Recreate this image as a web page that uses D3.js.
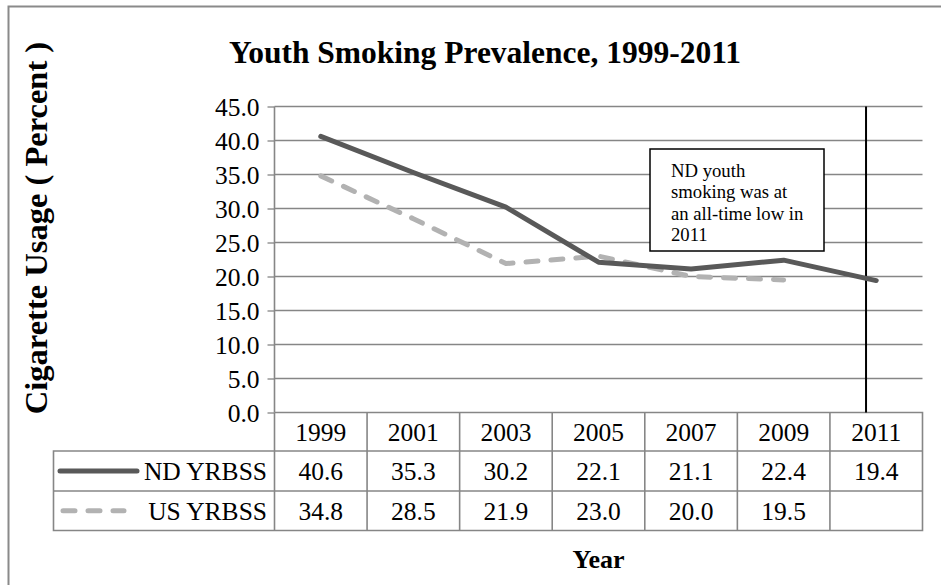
<!DOCTYPE html>
<html>
<head>
<meta charset="utf-8">
<script src="https://cdn.jsdelivr.net/npm/d3@7"></script>
<style>
  html, body { margin: 0; padding: 0; background: #fff; }
  svg { display: block; }
  svg text { font-family: "Liberation Serif", "Times New Roman", serif; }
</style>
</head>
<body>
<svg id="chart" width="941" height="585" font-family="Liberation Serif, Times New Roman, serif"></svg>
<script>
// Survey years (categories)
const years = ["1999", "2001", "2003", "2005", "2007", "2009", "2011"];
// Percent of youth smoking cigarettes
const ndValues = [40.6, 35.3, 30.2, 22.1, 21.1, 22.4, 19.4];
const usValues = [34.8, 28.5, 21.9, 23.0, 20.0, 19.5, null];
const seriesNames = ["ND YRBSS", "US YRBSS"];
// Value axis ticks
const yTicks = [0, 5, 10, 15, 20, 25, 30, 35, 40, 45];
const noteLines = ["ND youth", "smoking was at", "an all-time low in", "2011"];

(function () {
const series = [
  { name: seriesNames[0], values: ndValues, color: "#595959", dash: null },
  { name: seriesNames[1], values: usValues, color: "#b2b2b2", dash: "12,13" }
];

const svg = d3.select("#chart");
const gridColor = "#868686";

const plotL = 274.5, plotR = 922.5, plotT = 106.5, plotB = 412.5;
const rowH = [38.5, 40, 39.5];

const x = d3.scaleBand().domain(years).range([plotL, plotR]);
const y = d3.scaleLinear().domain([0, 45]).range([plotB, plotT]);

// Chart frame
svg.append("rect")
  .attr("x", 8.5).attr("y", 6.5).attr("width", 1000).attr("height", 700)
  .attr("fill", "none").attr("stroke", "#8a8a8a").attr("stroke-width", 2);

// Title
svg.append("text")
  .attr("x", 485).attr("y", 63)
  .attr("text-anchor", "middle")
  .attr("font-weight", "bold").attr("font-size", 31.5)
  .text("Youth Smoking Prevalence, 1999-2011");

// Gridlines
svg.append("g").selectAll("line").data(yTicks.filter(d => d > 0)).join("line")
  .attr("x1", plotL).attr("x2", plotR)
  .attr("y1", d => y(d)).attr("y2", d => y(d))
  .attr("stroke", gridColor).attr("stroke-width", 1.3);

// Value axis
const yAxis = svg.append("g")
  .attr("transform", `translate(${plotL},0)`)
  .call(d3.axisLeft(y).tickValues(yTicks).tickFormat(d => d.toFixed(1)).tickSize(7).tickPadding(8));
yAxis.attr("font-family", null).attr("font-size", null);
yAxis.select(".domain").attr("stroke", gridColor).attr("stroke-width", 1.6)
  .attr("d", `M0,${plotT}V${plotB}`);
yAxis.selectAll(".tick line").attr("stroke", gridColor).attr("stroke-width", 1.3);
yAxis.selectAll(".tick text")
  .attr("font-size", 25.5).attr("fill", "#000").attr("dy", "0.34em");

// Axis titles
svg.append("text")
  .attr("transform", "translate(47,228) rotate(-90)")
  .attr("text-anchor", "middle")
  .attr("font-weight", "bold").attr("font-size", 32.5)
  .text("Cigarette Usage ( Percent )");

svg.append("text")
  .attr("x", (plotL + plotR) / 2).attr("y", 568)
  .attr("text-anchor", "middle")
  .attr("font-weight", "bold").attr("font-size", 26)
  .text("Year");

// Data table
const tableLeft = 53.5;
const r0 = plotB, r1 = r0 + rowH[0], r2 = r1 + rowH[1], r3 = r2 + rowH[2];
const table = svg.append("g").attr("stroke", gridColor).attr("stroke-width", 1.6).attr("fill", "none");
table.append("path").attr("d", `M${plotL},${r0}H${plotR}V${r3}H${tableLeft}V${r1}H${plotR}M${tableLeft},${r2}H${plotR}`);
table.selectAll("line.col").data(years).join("line")
  .attr("x1", d => x(d)).attr("x2", d => x(d))
  .attr("y1", r0).attr("y2", r3);

// Header row: year labels
svg.append("g").selectAll("text").data(years).join("text")
  .attr("x", d => x(d) + x.bandwidth() / 2).attr("y", (r0 + r1) / 2 + 9)
  .attr("text-anchor", "middle").attr("font-size", 25.5)
  .text(d => d);

// Series rows with legend keys and values
const rowsTop = [r1, r2];
series.forEach((s, i) => {
  const cy = rowsTop[i] + rowH[i + 1] / 2;
  svg.append("line")
    .attr("x1", i === 0 ? 60 : 63).attr("x2", i === 0 ? 137 : 124)
    .attr("y1", cy).attr("y2", cy)
    .attr("stroke", s.color).attr("stroke-width", 5)
    .attr("stroke-linecap", "round")
    .attr("stroke-dasharray", s.dash);
  svg.append("text")
    .attr("x", 267).attr("y", cy + 9)
    .attr("text-anchor", "end").attr("font-size", 25.5)
    .text(s.name);
  svg.append("g").selectAll("text").data(years.map((yr, j) => ({ yr, v: s.values[j] })).filter(d => d.v != null)).join("text")
    .attr("x", d => x(d.yr) + x.bandwidth() / 2).attr("y", cy + 9)
    .attr("text-anchor", "middle").attr("font-size", 25.5)
    .text(d => d.v.toFixed(1));
});

// Series lines
const line = d3.line()
  .defined(d => d.v != null)
  .x(d => x(d.yr) + x.bandwidth() / 2)
  .y(d => y(d.v));

// Marker line at the latest survey year
svg.append("line")
  .attr("x1", x("2011") + x.bandwidth() * 0.39).attr("x2", x("2011") + x.bandwidth() * 0.39)
  .attr("y1", plotT).attr("y2", plotB)
  .attr("stroke", "#000").attr("stroke-width", 2);

series.slice().reverse().forEach(s => {
  svg.append("path")
    .datum(years.map((yr, j) => ({ yr, v: s.values[j] })))
    .attr("d", line)
    .attr("fill", "none")
    .attr("stroke", s.color).attr("stroke-width", 5)
    .attr("stroke-linejoin", "round")
    .attr("stroke-linecap", "round")
    .attr("stroke-dasharray", s.dash);
});

// Callout box
const note = svg.append("g");
note.append("rect")
  .attr("x", 650).attr("y", 149).attr("width", 174).attr("height", 102)
  .attr("fill", "#fff").attr("stroke", "#000").attr("stroke-width", 1.5);
note.selectAll("text").data(noteLines).join("text")
  .attr("x", 671).attr("y", (d, i) => 177 + i * 21.3)
  .attr("font-size", 18.7)
  .text(d => d);
})();
</script>
</body>
</html>
